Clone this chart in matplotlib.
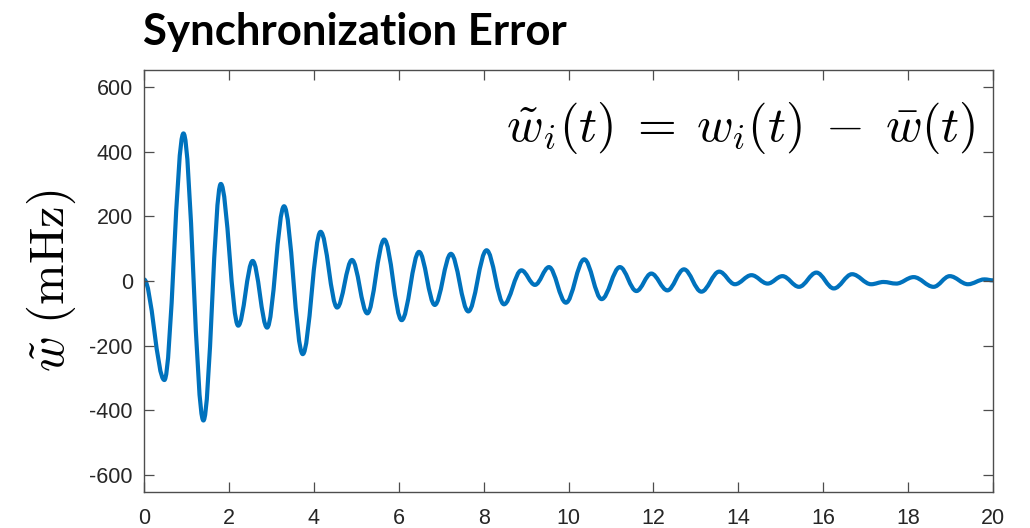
import matplotlib
matplotlib.use('Agg')
import matplotlib.pyplot as plt
from matplotlib.path import Path
from matplotlib.patches import PathPatch

# turning points of the error curve (time in s, error in mHz)
t_pts = [0, 0.48, 0.93, 1.40, 1.81, 2.22, 2.56, 2.90, 3.30, 3.74, 4.16, 4.55, 4.90,
         5.26, 5.66, 6.07, 6.48, 6.85, 7.23, 7.64, 8.07, 8.48, 8.89, 9.21, 9.54, 9.94,
         10.37, 10.78, 11.21, 11.60, 11.95, 12.33, 12.72, 13.13, 13.55, 13.92, 14.31,
         14.69, 15.04, 15.43, 15.84, 16.25, 16.68, 17.13, 17.42, 17.72, 18.13, 18.60,
         18.98, 19.41, 19.80, 20.0]
w_pts = [5, -306, 456, -431, 300, -138, 62, -144, 231, -226, 152, -82, 65,
         -100, 128, -121, 90, -74, 84, -94, 95, -72, 33, -12, 43, -67,
         67, -56, 43, -31, 23, -29, 36, -33, 29, -10, 18,
         -8, 15, -18, 26, -23, 21, -10, -3, -8, 12, -18,
         15, -10, 5, 2]

x_ticks = [0, 2, 4, 6, 8, 10, 12, 14, 16, 18, 20]
y_ticks = [-600, -400, -200, 0, 200, 400, 600]

title = 'Synchronization Error'
ylabel = r'$\tilde{w}\ (\mathrm{mHz})$'
formula = r'$\tilde{w}_i(t)\;=\;w_i(t)\;-\;\bar{w}(t)$'

plt.rcParams['mathtext.fontset'] = 'cm'

fig = plt.figure(figsize=(10.3, 5.28), dpi=100)
ax = fig.add_axes([0.1398, 0.0682, 0.8243, 0.7992])

# smooth curve: cubic segments with flat tangents at each turning point
verts = [(t_pts[0], w_pts[0])]
codes = [Path.MOVETO]
for i in range(1, len(t_pts)):
    t0, t1 = t_pts[i - 1], t_pts[i]
    dt = (t1 - t0) * 0.36
    verts += [(t0 + dt, w_pts[i - 1]), (t1 - dt, w_pts[i]), (t1, w_pts[i])]
    codes += [Path.CURVE4] * 3
ax.add_patch(PathPatch(Path(verts, codes), fill=False, edgecolor='#0072BD',
                       lw=3.0, capstyle='round', joinstyle='round'))

ax.set_xlim(0, 20)
ax.set_ylim(-652, 652)
ax.set_xticks(x_ticks)
ax.set_yticks(y_ticks)
ax.set_xticklabels([str(v) for v in x_ticks], family='Liberation Sans', fontsize=15.5)
ax.set_yticklabels([str(v) for v in y_ticks], family='Liberation Sans', fontsize=15.5)
ax.tick_params(direction='in', top=True, right=True, length=7, width=0.9,
               color='#4d4d4d', labelcolor='#262626')
ax.tick_params(axis='x', pad=11.5)
ax.tick_params(axis='y', pad=8)
for s in ax.spines.values():
    s.set_color('#4d4d4d')
    s.set_linewidth(1.0)

ax.set_ylabel(ylabel, fontsize=35, labelpad=8)
ax.text(0.979, 0.862, formula, transform=ax.transAxes, ha='right', va='center',
        fontsize=36)

fig.text(0.139, 0.914, title, family='Lato', weight='bold', fontsize=31.5,
         va='baseline', ha='left')

fig.savefig('out.png', dpi=100)
